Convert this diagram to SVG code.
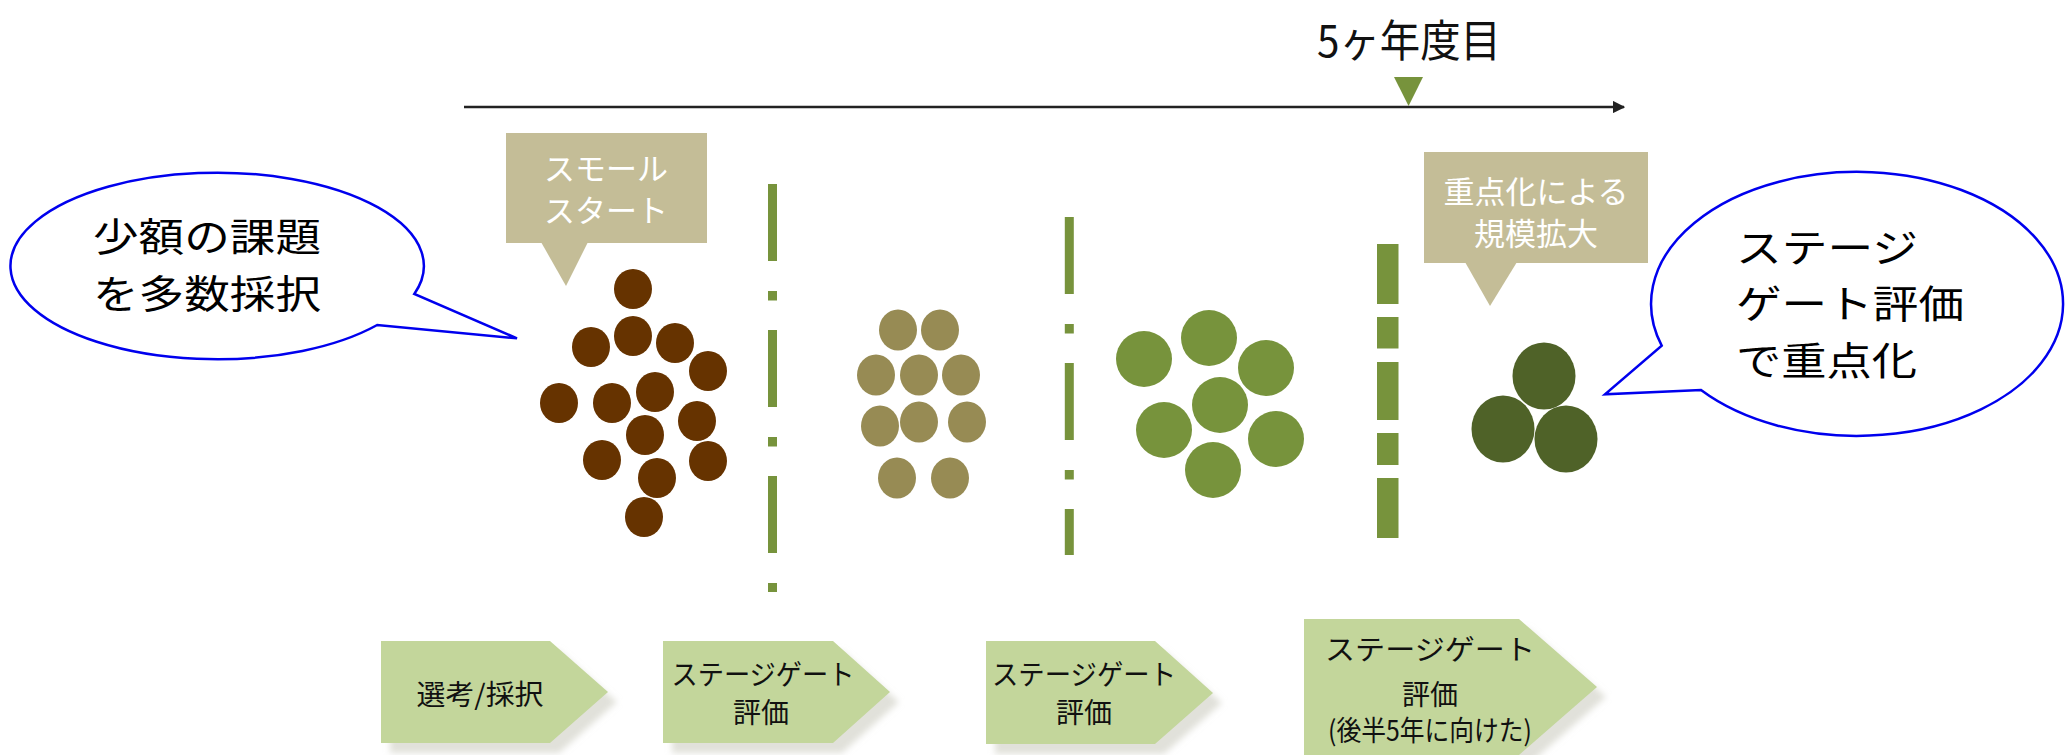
<svg xmlns="http://www.w3.org/2000/svg" width="2067" height="755" viewBox="0 0 2067 755">
<style>
text{font-family:"Noto Sans CJK JP","Noto Sans",sans-serif;}
.bub{fill:#fff;stroke:#0000ee;stroke-width:2.5;stroke-linejoin:miter;}
.bt{font-size:39px;fill:#000;}
.box{fill:#C4BD97;}
.boxt{font-size:31px;fill:#fff;text-anchor:middle;}
.chev{fill:#C3D69B;filter:url(#sh);}
.ct{font-size:28px;fill:#111;text-anchor:middle;}
.brown{fill:#663300;}
.tan{fill:#978B54;}
.grn{fill:#77933C;}
.dg{fill:#4F6228;}
.gate{stroke:#77933C;stroke-width:9;stroke-dasharray:77 30 9.5 29.5;fill:none;}
.thick{fill:#77933C;}
</style>
<defs>
<filter id="sh" x="-10%" y="-10%" width="130%" height="140%">
<feDropShadow dx="9" dy="10" stdDeviation="3" flood-color="#c8c8bc" flood-opacity="0.55"/>
</filter>
<marker id="ah" viewBox="0 0 10 10" refX="9" refY="5" markerWidth="5" markerHeight="5" orient="auto" markerUnits="strokeWidth">
<path d="M0,0 L10,5 L0,10 z" fill="#222"/>
</marker>
</defs>
<rect width="2067" height="755" fill="#fff"/>

<g id="connectors">
<line x1="464" y1="107" x2="1624" y2="107" stroke="#222" stroke-width="2.5" marker-end="url(#ah)"/>
</g>

<g id="year-marker">
<text x="1317" y="57" font-size="44" textLength="184" lengthAdjust="spacingAndGlyphs" fill="#111">5ヶ年度目</text>
<polygon points="1394,77 1423,77 1408.6,106" fill="#77933C"/>
</g>

<g id="bubble-left">
<path class="bub" d="M414.3,294 A206.7,93.3 0 1 0 377.2,325 L517,338.3 Z"/>
<text class="bt" x="93" y="251" textLength="228" lengthAdjust="spacingAndGlyphs">少額の課題</text>
<text class="bt" x="93" y="308" textLength="228" lengthAdjust="spacingAndGlyphs">を多数採択</text>
</g>

<g id="bubble-right">
<path class="bub" d="M1701,390 A206,132 0 1 0 1661.7,345.7 L1605,394.3 Z"/>
<text class="bt" x="1736" y="262" textLength="182" lengthAdjust="spacingAndGlyphs">ステージ</text>
<text class="bt" x="1736" y="318" textLength="228" lengthAdjust="spacingAndGlyphs">ゲート評価</text>
<text class="bt" x="1736" y="375" textLength="181" lengthAdjust="spacingAndGlyphs">で重点化</text>
</g>

<g id="callout-small-start">
<rect class="box" x="506" y="133" width="201" height="110"/>
<polygon class="box" points="541,242 588,242 566,286"/>
<text class="boxt" x="606" y="180">スモール</text>
<text class="boxt" x="606" y="222">スタート</text>
</g>

<g id="callout-scale-up">
<rect class="box" x="1424" y="152" width="224" height="111"/>
<polygon class="box" points="1465,262 1517,262 1490,306"/>
<text class="boxt" x="1536" y="203">重点化による</text>
<text class="boxt" x="1536" y="245">規模拡大</text>
</g>

<g id="projects-initial">
<ellipse class="brown" cx="633" cy="289" rx="19" ry="20"/>
<ellipse class="brown" cx="591" cy="347" rx="19" ry="20"/>
<ellipse class="brown" cx="633" cy="336" rx="19" ry="20"/>
<ellipse class="brown" cx="675" cy="343" rx="19" ry="20"/>
<ellipse class="brown" cx="708" cy="371" rx="19" ry="20"/>
<ellipse class="brown" cx="559" cy="403" rx="19" ry="20"/>
<ellipse class="brown" cx="612" cy="403" rx="19" ry="20"/>
<ellipse class="brown" cx="655" cy="392" rx="19" ry="20"/>
<ellipse class="brown" cx="697" cy="421" rx="19" ry="20"/>
<ellipse class="brown" cx="645" cy="435" rx="19" ry="20"/>
<ellipse class="brown" cx="602" cy="460" rx="19" ry="20"/>
<ellipse class="brown" cx="708" cy="461" rx="19" ry="20"/>
<ellipse class="brown" cx="657" cy="478" rx="19" ry="20"/>
<ellipse class="brown" cx="644" cy="517" rx="19" ry="20"/>
</g>

<g id="gate-1">
<line class="gate" x1="772.5" y1="184" x2="772.5" y2="592"/>
</g>

<g id="projects-stage2">
<ellipse class="tan" cx="898" cy="330" rx="19" ry="20.5"/>
<ellipse class="tan" cx="940" cy="330" rx="19" ry="20.5"/>
<ellipse class="tan" cx="876" cy="375" rx="19" ry="20.5"/>
<ellipse class="tan" cx="919" cy="375" rx="19" ry="20.5"/>
<ellipse class="tan" cx="961" cy="375" rx="19" ry="20.5"/>
<ellipse class="tan" cx="880" cy="426" rx="19" ry="20.5"/>
<ellipse class="tan" cx="919" cy="422" rx="19" ry="20.5"/>
<ellipse class="tan" cx="967" cy="422" rx="19" ry="20.5"/>
<ellipse class="tan" cx="897" cy="478" rx="19" ry="20.5"/>
<ellipse class="tan" cx="950" cy="478" rx="19" ry="20.5"/>
</g>

<g id="gate-2">
<line class="gate" x1="1069.3" y1="217" x2="1069.3" y2="555"/>
</g>

<g id="projects-stage3">
<circle class="grn" cx="1144" cy="359" r="28"/>
<circle class="grn" cx="1209" cy="338" r="28"/>
<circle class="grn" cx="1266" cy="368" r="28"/>
<circle class="grn" cx="1220" cy="405" r="28"/>
<circle class="grn" cx="1164" cy="430" r="28"/>
<circle class="grn" cx="1276" cy="439" r="28"/>
<circle class="grn" cx="1213" cy="470" r="28"/>
</g>

<g id="gate-3">
<rect class="thick" x="1377" y="244" width="21.5" height="60"/>
<rect class="thick" x="1377" y="317" width="21.5" height="31.5"/>
<rect class="thick" x="1377" y="362" width="21.5" height="58"/>
<rect class="thick" x="1377" y="433" width="21.5" height="32"/>
<rect class="thick" x="1377" y="478" width="21.5" height="60"/>
</g>

<g id="projects-focused">
<ellipse class="dg" cx="1544" cy="376" rx="31.5" ry="33.5"/>
<ellipse class="dg" cx="1503" cy="429" rx="31.5" ry="33.5"/>
<ellipse class="dg" cx="1566" cy="439" rx="31.5" ry="33.5"/>
</g>

<g id="step-selection">
<polygon class="chev" points="381,641 550,641 608,692 550,743 381,743"/>
<text class="ct" x="480" y="705" font-size="29" textLength="127" lengthAdjust="spacingAndGlyphs">選考/採択</text>
</g>

<g id="step-gate-1">
<polygon class="chev" points="663,641 833,641 890,692 833,743 663,743"/>
<text class="ct" x="763" y="685" textLength="183" lengthAdjust="spacingAndGlyphs">ステージゲート</text>
<text class="ct" x="761" y="723">評価</text>
</g>

<g id="step-gate-2">
<polygon class="chev" points="986,641 1155,641 1213,693 1155,744 986,744"/>
<text class="ct" x="1084" y="685" textLength="184" lengthAdjust="spacingAndGlyphs">ステージゲート</text>
<text class="ct" x="1084" y="723">評価</text>
</g>

<g id="step-gate-3">
<polygon class="chev" points="1304,619 1519,619 1597,687 1519,755 1304,755"/>
<text class="ct" x="1430" y="660" font-size="31" textLength="210" lengthAdjust="spacingAndGlyphs">ステージゲート</text>
<text class="ct" x="1430" y="705" font-size="31">評価</text>
<text class="ct" x="1430" y="741" font-size="25" textLength="204" lengthAdjust="spacingAndGlyphs">(後半5年に向けた)</text>
</g>
</svg>
